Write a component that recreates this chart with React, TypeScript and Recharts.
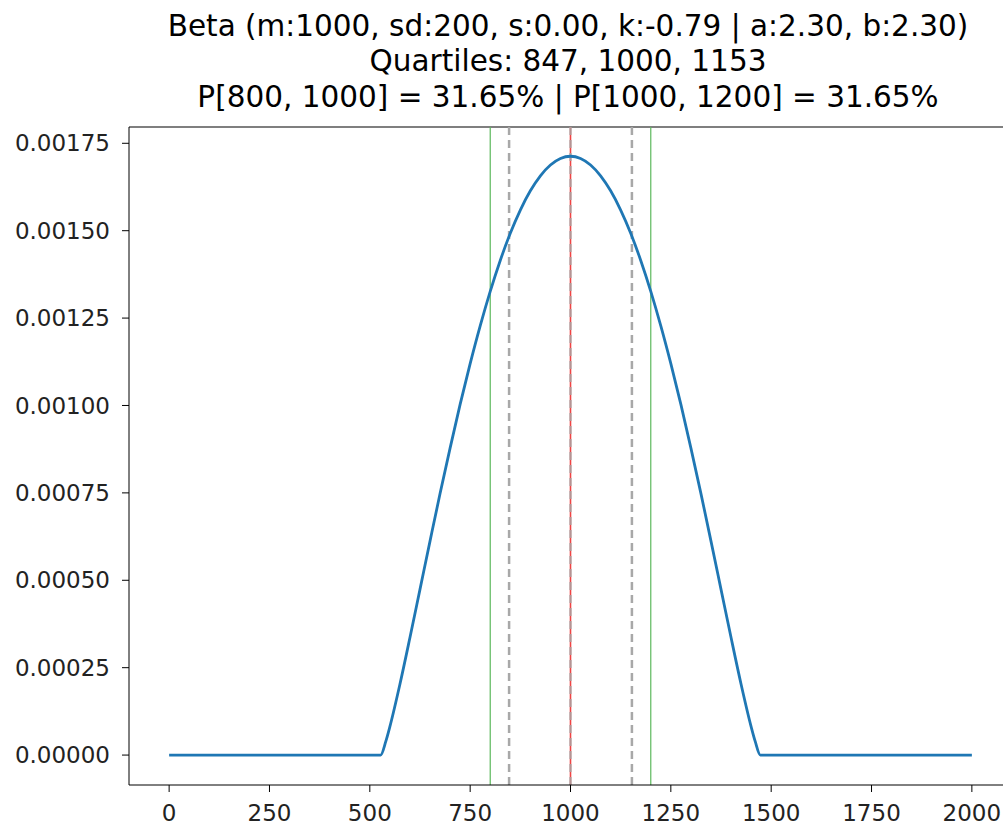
import { ComposedChart, Line, XAxis, YAxis, ReferenceLine } from "recharts"

// density values
const xs = [0, 527, 540, 550, 575, 600, 625, 650, 675, 700, 725, 750, 775, 800, 825, 850, 875, 900, 925, 950, 975, 1000,
  1025, 1050, 1075, 1100, 1125, 1150, 1175, 1200, 1225, 1250, 1275, 1300, 1325, 1350, 1375, 1400, 1425, 1450, 1460, 1473, 2000]
const density = [0, 0, 0.0000398, 0.0000815, 0.0002027, 0.0003362, 0.000474, 0.000612, 0.000748, 0.000878, 0.001003, 0.0011196,
  0.0012277, 0.0013264, 0.0014149, 0.0014927, 0.0015591, 0.0016141, 0.001657, 0.001688, 0.0017067, 0.001713,
  0.0017067, 0.001688, 0.001657, 0.0016141, 0.0015591, 0.0014927, 0.0014149, 0.0013264, 0.0012277, 0.0011196,
  0.001003, 0.000878, 0.000748, 0.000612, 0.000474, 0.0003362, 0.0002027, 0.0000815, 0.0000398, 0, 0]

const xTicks = [0, 250, 500, 750, 1000, 1250, 1500, 1750, 2000]
const yTicks = [0, 0.00025, 0.0005, 0.00075, 0.001, 0.00125, 0.0015, 0.00175]

const rangeLines = [800, 1200]
const quartiles = [847, 1153]
const median = 1000
const mean = 1000

const titleLines = [
  "Beta (m:1000, sd:200, s:0.00, k:-0.79 | a:2.30, b:2.30)",
  "Quartiles: 847, 1000, 1153",
  "P[800, 1000] = 31.65% | P[1000, 1200] = 31.65%",
]

const data = xs.map((x, i) => ({ x, y: density[i] }))

const yMax = 0.0017966
const yMin = -0.0000856

const font = "'DejaVu Sans', sans-serif"

export default function App() {
  return (
    <div style={{ position: "absolute", left: 0, top: 0, width: 1003, height: 826, overflow: "hidden", background: "#fff", fontFamily: font }}>
      {titleLines.map((t, i) => (
        <div
          key={i}
          style={{
            position: "absolute",
            left: 0,
            width: 1136,
            top: 9 + i * 35.4,
            textAlign: "center",
            fontSize: 29.5,
            lineHeight: "35.4px",
            color: "#000",
            whiteSpace: "nowrap",
          }}
        >
          {t}
        </div>
      ))}
      <ComposedChart
        width={1013}
        height={826}
        data={data}
        margin={{ top: 127, right: 1, bottom: 0, left: 0 }}
        style={{ position: "absolute", left: 0, top: 0 }}
      >
        <XAxis
          dataKey="x"
          type="number"
          domain={[-100, 2100]}
          ticks={xTicks}
          height={41}
          tickSize={7}
          tickMargin={13}
          stroke="#000"
          tick={{ fill: "#222", fontSize: 23, fontFamily: font }}
          allowDataOverflow
        />
        <YAxis
          type="number"
          domain={[yMin, yMax]}
          ticks={yTicks}
          width={129}
          tickSize={7}
          tickMargin={12}
          stroke="#000"
          tickFormatter={(v: number) => v.toFixed(5)}
          tick={{ fill: "#222", fontSize: 23, fontFamily: font }}
          allowDataOverflow
        />
        <ReferenceLine y={yMax} stroke="#000" strokeWidth={1.2} />
        {rangeLines.map((v) => (
          <ReferenceLine key={"r" + v} x={v} stroke="#5cb85c" strokeWidth={1.2} />
        ))}
        <ReferenceLine x={mean} stroke="#ee4444" strokeWidth={1.6} />
        {quartiles.map((v) => (
          <ReferenceLine key={"q" + v} x={v} stroke="#a8a8a8" strokeWidth={2.5} strokeDasharray="8 5" />
        ))}
        <ReferenceLine x={median} stroke="#a8a8a8" strokeOpacity={0.8} strokeWidth={2.5} strokeDasharray="8 5" />
        <Line
          dataKey="y"
          type="monotone"
          stroke="#1f77b4"
          strokeWidth={2.8}
          dot={false}
          isAnimationActive={false}
        />
      </ComposedChart>
    </div>
  )
}
